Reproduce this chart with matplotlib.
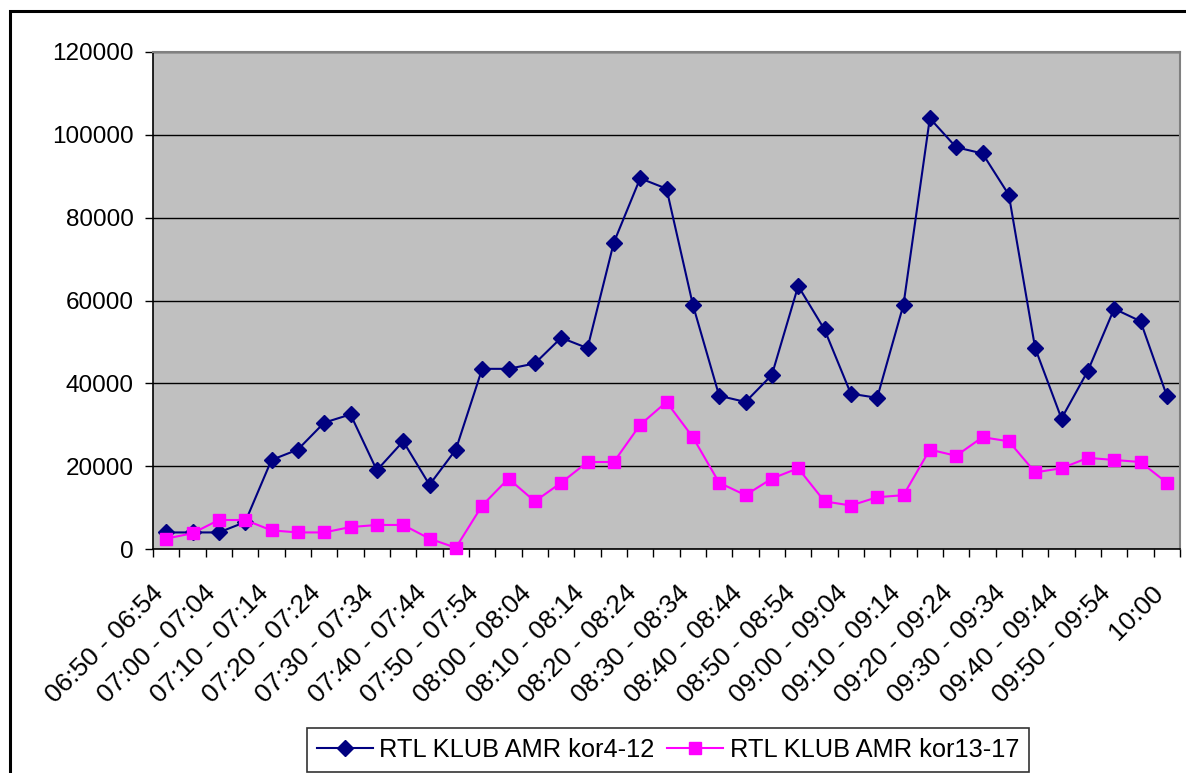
import matplotlib
matplotlib.use("Agg")
import matplotlib.pyplot as plt
from matplotlib.patches import Rectangle
from matplotlib.lines import Line2D
from matplotlib.transforms import ScaledTranslation

categories = []
for h in range(6, 10):
    for m in range(0, 60, 5):
        t = h * 60 + m
        if 6 * 60 + 50 <= t <= 9 * 60 + 55:
            categories.append(f"{h:02d}:{m:02d} - {h:02d}:{m+4:02d}")
categories.append("10:00")

kor4_12 = [4000, 4000, 4000, 6500, 21500, 24000, 30500, 32500, 19000, 26000,
           15500, 24000, 43500, 43500, 44800, 51000, 48500, 74000, 89500, 87000,
           59000, 37000, 35500, 42000, 63500, 53000, 37500, 36500, 59000, 104000,
           97000, 95500, 85500, 48500, 31500, 43000, 58000, 55000, 37000]
kor13_17 = [2500, 3800, 7000, 7000, 4500, 4000, 4000, 5300, 5800, 5800,
            2500, 300, 10500, 17000, 11500, 16000, 21000, 21000, 30000, 35500,
            27000, 16000, 13000, 17000, 19500, 11500, 10500, 12500, 13000, 24000,
            22500, 27000, 26000, 18500, 19500, 22000, 21500, 21000, 16000]

series_names = ["RTL KLUB AMR kor4-12", "RTL KLUB AMR kor13-17"]

plt.rcParams['font.family'] = ['Liberation Sans', 'DejaVu Sans']

W, H = 1186, 773
fig = plt.figure(figsize=(W / 100, H / 100), dpi=100)
fig.patch.set_facecolor('white')

# outer chart frame (extends past right and bottom edges)
fig.add_artist(Rectangle((10 / W, -0.05), 1.2, 1 - 11 / H + 0.05, transform=fig.transFigure,
                         fill=False, edgecolor='black', linewidth=2.2, zorder=0))

left, right, top, bottom = 153, 1180, 52, 549
ax = fig.add_axes([left / W, 1 - bottom / H, (right - left) / W, (bottom - top) / H])
ax.set_facecolor('#C0C0C0')

n = len(categories)
x = list(range(n))
ax.plot(x, kor4_12, color='#000080', linewidth=1.5, marker='D', markersize=8.5,
        markerfacecolor='#000080', markeredgecolor='#000080', zorder=3, clip_on=False)
ax.plot(x, kor13_17, color='#FF00FF', linewidth=1.5, marker='s', markersize=9,
        markerfacecolor='#FF00FF', markeredgecolor='#FF00FF', zorder=3, clip_on=False)

ax.set_xlim(-0.5, n - 0.5)
ax.set_ylim(0, 120000)
ax.set_yticks(range(0, 120001, 20000))
ax.set_yticklabels([str(v) for v in range(0, 120001, 20000)], fontsize=17.5)
ax.yaxis.grid(True, color='black', linewidth=1.0)
ax.set_axisbelow(True)

# tick marks between categories, labels on every other category
ax.set_xticks([i - 0.5 for i in range(n + 1)], minor=False)
ax.set_xticklabels([])
ax.tick_params(axis='x', which='major', length=6, width=1, color='black', direction='out')
ax.tick_params(axis='y', length=6, width=1, direction='out', pad=8)
ax.set_xticks(x[::2], minor=True)
ax.set_xticklabels(categories[::2], minor=True, rotation=45, ha='right', va='center',
                   rotation_mode='anchor', fontsize=19)
ax.tick_params(axis='x', which='minor', length=0, pad=29)
shift = ScaledTranslation(-7 / 100, 0, fig.dpi_scale_trans)
for lbl in ax.get_xticklabels(minor=True):
    lbl.set_transform(lbl.get_transform() + shift)

for s in ['top', 'right']:
    ax.spines[s].set_color('#808080')
    ax.spines[s].set_linewidth(1.5)
for s in ['left', 'bottom']:
    ax.spines[s].set_color('black')
    ax.spines[s].set_linewidth(1.2)

handles = [
    Line2D([0], [0], color='#000080', linewidth=1.5, marker='D', markersize=8.5),
    Line2D([0], [0], color='#FF00FF', linewidth=1.5, marker='s', markersize=9),
]
leg = fig.legend(handles, series_names, loc='upper left',
                 bbox_to_anchor=(307 / W, 1 - 728 / H), ncol=2, fontsize=18.3,
                 frameon=True, fancybox=False, edgecolor='black', handlelength=2.2,
                 handletextpad=0.25, columnspacing=0.5, borderpad=0.4, borderaxespad=0)
leg.get_frame().set_linewidth(1.2)

fig.savefig('out.png', dpi=100, facecolor='white')
